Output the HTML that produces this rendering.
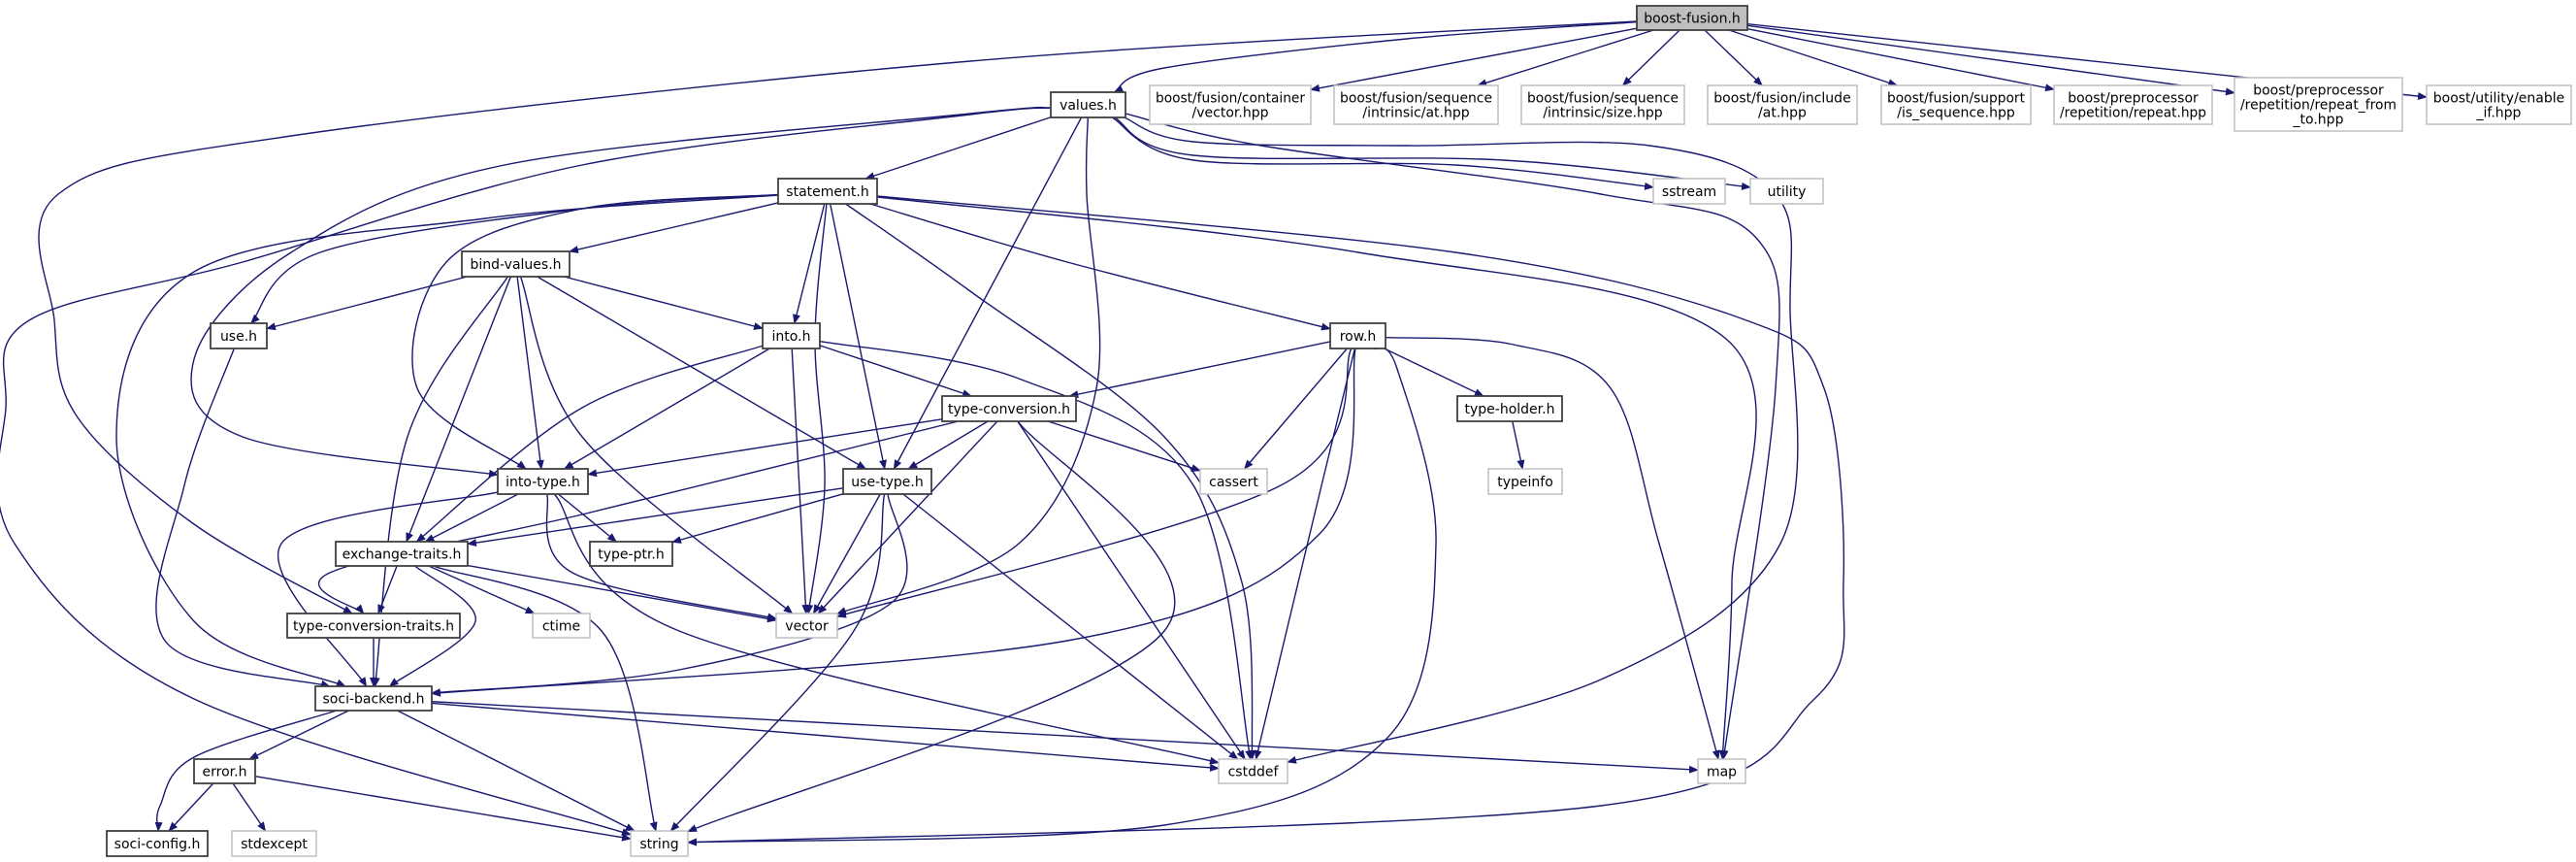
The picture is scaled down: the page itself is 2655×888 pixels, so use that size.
<!DOCTYPE html>
<html><head><meta charset="utf-8"><style>
html,body{margin:0;padding:0;background:#fff;}
svg{display:block;}
text{font-family:"DejaVu Sans","Liberation Sans",sans-serif;font-size:14px;fill:#000;}
</style></head><body>
<svg id="g" width="2655" height="888" viewBox="0 0 2655 888" xmlns="http://www.w3.org/2000/svg">
<defs><marker id="ah" markerWidth="10" markerHeight="8" refX="9" refY="4" orient="auto" markerUnits="userSpaceOnUse"><path d="M0,0 L10,4 L0,8 z" fill="#191970"/></marker></defs>
<g id="edges" fill="none" stroke="#191970" stroke-width="1.4"></g>
<g id="nodes"></g>
</svg>
<script>
var N={
BF:[1687,6,1801,31,["boost-fusion.h"],2],
VAL:[1083,95,1160,121,["values.h"],1],
CV:[1185,88,1351,128,["boost/fusion/container","/vector.hpp"],0],
SA:[1375,88,1544,128,["boost/fusion/sequence","/intrinsic/at.hpp"],0],
SS:[1568,88,1736,128,["boost/fusion/sequence","/intrinsic/size.hpp"],0],
IA:[1760,88,1914,128,["boost/fusion/include","/at.hpp"],0],
IS:[1939,88,2093,128,["boost/fusion/support","/is_sequence.hpp"],0],
PR:[2117,88,2280,128,["boost/preprocessor","/repetition/repeat.hpp"],0],
PRF:[2303,80,2476,135,["boost/preprocessor","/repetition/repeat_from","_to.hpp"],0],
EI:[2501,88,2650,128,["boost/utility/enable","_if.hpp"],0],
SST:[1704,184,1778,210,["sstream"],0],
UTIL:[1804,184,1879,210,["utility"],0],
STMT:[802,184,904,210,["statement.h"],1],
BV:[476,259,587,285,["bind-values.h"],1],
ROW:[1371,333,1428,359,["row.h"],1],
USE:[217,333,275,359,["use.h"],1],
INTO:[786,333,845,359,["into.h"],1],
TC:[971,408,1109,434,["type-conversion.h"],1],
TH:[1502,408,1610,434,["type-holder.h"],1],
IT:[513,483,606,509,["into-type.h"],1],
UT:[869,483,960,509,["use-type.h"],1],
CAS:[1237,483,1306,509,["cassert"],0],
TI:[1534,483,1610,509,["typeinfo"],0],
ET:[346,558,482,583,["exchange-traits.h"],1],
TP:[608,558,693,583,["type-ptr.h"],1],
TCT:[296,632,474,657,["type-conversion-traits.h"],1],
CT:[549,632,608,657,["ctime"],0],
VEC:[800,632,863,657,["vector"],0],
SB:[325,707,445,732,["soci-backend.h"],1],
ERR:[200,782,263,807,["error.h"],1],
CSD:[1256,782,1327,807,["cstddef"],0],
MAP:[1750,782,1799,807,["map"],0],
SC:[110,856,214,882,["soci-config.h"],1],
STDX:[239,856,326,882,["stdexcept"],0],
STR:[650,856,709,882,["string"],0]
};
var E=[
["BF","VAL",[[1450,40],[1200,70]]],["BF","CV"],["BF","SA"],["BF","SS"],["BF","IA"],["BF","IS"],["BF","PR"],["BF","PRF"],["BF","EI"],
["BF","TCT",[[1000,63],[300,140],[60,200],[56,330],[80,430],[200,540]]],
["VAL","STMT"],["VAL","IT",[[1000,117],[520,170],[300,260],[200,370],[250,450]]],
["VAL","STR",[[1000,118],[600,170],[250,270],[30,330],[6,420],[15,560],[200,720]]],
["VAL","UT"],["VAL","VEC",[[1120,200],[1130,400],[1050,560]]],
["VAL","SST",[[1230,165],[1500,170]]],["VAL","UTIL",[[1230,160],[1550,165]]],
["VAL","MAP",[[1300,150],[1650,200],[1810,245],[1830,400]]],
["VAL","CSD",[[1230,146],[1450,150],[1700,150],[1830,200],[1845,320],[1835,560],[1650,700]]],
["STMT","BV"],["STMT","USE",[[600,215],[330,260]]],["STMT","INTO"],["STMT","IT",[[600,215],[460,270],[430,400]]],
["STMT","SB",[[500,225],[200,280],[120,450],[200,640]]],
["STMT","UT"],["STMT","VEC",[[840,350],[850,500]]],["STMT","CSD",[[1000,300],[1200,450],[1280,600]]],
["STMT","ROW",[[1100,270]]],["STMT","MAP",[[1400,260],[1780,350],[1785,600]]],
["STMT","STR",[[1500,260],[1800,330],[1880,400],[1900,600],[1870,720],[1650,830]]],
["BV","USE"],["BV","INTO"],["BV","SB",[[420,450]]],["BV","ET"],["BV","IT"],["BV","VEC",[[600,450]]],["BV","UT"],
["USE","SB",[[190,500],[170,660]]],
["INTO","TC"],["INTO","IT"],["INTO","ET",[[600,420]]],["INTO","VEC"],["INTO","CSD",[[1050,390],[1230,500]]],
["ROW","TC"],["ROW","CAS"],["ROW","TH"],["ROW","VEC",[[1320,500]]],["ROW","SB",[[1360,550],[1100,660]]],["ROW","CSD",[[1350,550]]],
["ROW","MAP",[[1560,355],[1660,400],[1710,560]]],["ROW","STR",[[1440,380],[1480,560],[1430,760],[1200,850]]],
["TC","IT"],["TC","UT"],["TC","CAS"],["TC","VEC"],["TC","CSD"],["TC","STR",[[1200,650]]],["TC","TCT",[[600,530],[340,590]]],
["TH","TI"],
["IT","ET"],["IT","TP"],["IT","VEC",[[590,590]]],["IT","SB",[[290,560]]],["IT","CSD",[[700,650]]],
["UT","ET"],["UT","TP"],["UT","VEC"],["UT","STR",[[880,650]]],["UT","SB",[[920,620],[700,690]]],["UT","CSD"],
["ET","TCT"],["ET","SB",[[490,640]]],["ET","CT"],["ET","VEC"],["ET","STR",[[620,650]]],
["TCT","SB"],
["SB","ERR"],["SB","SC",[[200,780],[165,830]]],["SB","STR"],["SB","CSD"],["SB","MAP"],
["ERR","SC"],["ERR","STDX"],["ERR","STR"]
];
var ns="http://www.w3.org/2000/svg";
function ctr(n){var b=N[n];return [(b[0]+b[2])/2,(b[1]+b[3])/2];}
function clip(n,from){var b=N[n],c=ctr(n),dx=from[0]-c[0],dy=from[1]-c[1];
 var hw=(b[2]-b[0])/2,hh=(b[3]-b[1])/2;if(dx==0&&dy==0)return c;
 var t=Math.min(dx?hw/Math.abs(dx):1e9,dy?hh/Math.abs(dy):1e9);return [c[0]+dx*t,c[1]+dy*t];}
var eg=document.getElementById("edges");
E.forEach(function(e){
 var s=e[0],t=e[1],w=e[2]||[];
 var first=w.length?w[0]:ctr(t),last=w.length?w[w.length-1]:ctr(s);
 var p=[clip(s,first)].concat(w).concat([clip(t,last)]);
 var d="M"+p[0][0]+","+p[0][1];
 for(var i=0;i<p.length-1;i++){
  var p0=p[i-1]||p[i],p1=p[i],p2=p[i+1],p3=p[i+2]||p[i+1];
  var c1=[p1[0]+(p2[0]-p0[0])/6,p1[1]+(p2[1]-p0[1])/6],c2=[p2[0]-(p3[0]-p1[0])/6,p2[1]-(p3[1]-p1[1])/6];
  d+=" C"+c1[0].toFixed(1)+","+c1[1].toFixed(1)+" "+c2[0].toFixed(1)+","+c2[1].toFixed(1)+" "+p2[0].toFixed(1)+","+p2[1].toFixed(1);
 }
 var pa=document.createElementNS(ns,"path");pa.setAttribute("d",d);pa.setAttribute("marker-end","url(#ah)");eg.appendChild(pa);
});
var ng=document.getElementById("nodes");
for(var k in N){var b=N[k];
 var r=document.createElementNS(ns,"rect");r.setAttribute("x",b[0]);r.setAttribute("y",b[1]);r.setAttribute("width",b[2]-b[0]);r.setAttribute("height",b[3]-b[1]);
 r.setAttribute("fill",b[5]==2?"#bfbfbf":"#fff");r.setAttribute("stroke",b[5]==0?"#bfbfbf":"#404040");r.setAttribute("stroke-width",b[5]==0?"1.5":"1.8");ng.appendChild(r);
 var L=b[4],lh=15,cy=(b[1]+b[3])/2,y0=cy-(L.length-1)*lh/2+5;
 L.forEach(function(s,i){var tx=document.createElementNS(ns,"text");tx.setAttribute("x",(b[0]+b[2])/2);tx.setAttribute("y",y0+i*lh);tx.setAttribute("text-anchor","middle");
  var maxw=b[2]-b[0]-12;tx.textContent=s;ng.appendChild(tx);
  try{if(tx.getComputedTextLength()>maxw){tx.setAttribute("textLength",maxw);tx.setAttribute("lengthAdjust","spacingAndGlyphs");}}catch(err){}
 });
}
</script>
</body></html>
